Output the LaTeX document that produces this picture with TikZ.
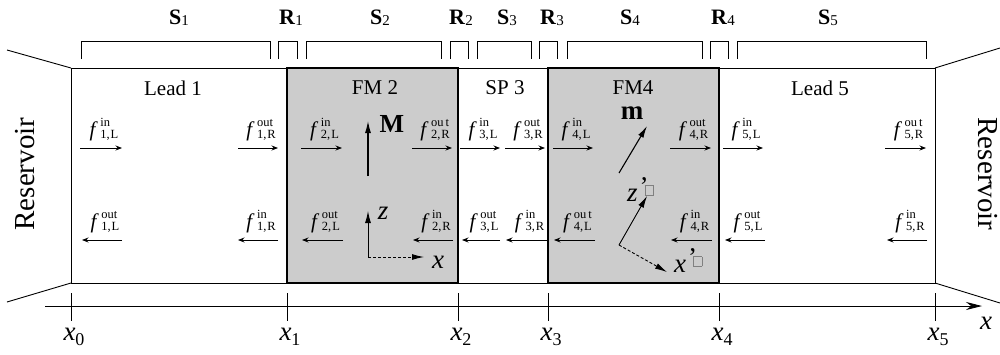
\documentclass[tikz,border=0pt]{standalone}
\usepackage{fontspec}
\setmainfont{Liberation Serif}
\usetikzlibrary{arrows.meta}
\newcommand{\scr}{\fontsize{12.5}{11.5}\selectfont}
\newcommand{\flab}[3]{\textit{f}\hspace{2.5pt}\raisebox{-2pt}{\scr\begin{tabular}[b]{@{}l@{}}#1\\#2,\kern1pt#3\end{tabular}}}
\newcommand{\missbox}{{\color{gray}\setlength{\fboxsep}{0pt}\setlength{\fboxrule}{0.6pt}\fbox{\rule{0pt}{9pt}\hspace{8pt}}}}
\newcommand{\seg}[2]{\textbf{#1}\raisebox{-1pt}{\fontsize{15}{15}\selectfont #2}}
\newcommand{\xsub}[1]{\textit{x}\raisebox{-5pt}{\fontsize{18}{18}\selectfont #1}}
\tikzset{
  thinline/.style={line width=0.9pt},
  fmline/.style={line width=1.6pt},
  flux/.style={line width=0.8pt,-{Stealth[length=6.5pt,width=5pt]}},
  flabel/.style={font=\fontsize{21}{23}\selectfont, inner sep=0pt, anchor=base},
  region/.style={font=\fontsize{21}{23}\selectfont},
  bigarrow/.style={line width=1.1pt,-{Latex[length=12pt,width=6pt]}},
  dasharrow/.style={line width=0.9pt,dash pattern=on 3pt off 2pt,-{Latex[length=12pt,width=6pt]}},
  seglabel/.style={font=\fontsize{22}{24}\selectfont},
  ticklabel/.style={font=\fontsize{27}{29}\selectfont},
  bracket/.style={line width=0.8pt},
  primelab/.style={font=\fontsize{27}{29}\selectfont, inner sep=0pt, anchor=base west},
}
\begin{document}
\begin{tikzpicture}[x=1pt,y=-1pt]
\useasboundingbox (0,0) rectangle (1000,354);
% gray regions
\fill[gray!40] (287,68) rectangle (458,283);
\fill[gray!40] (548,68) rectangle (719,283);
% main box
\draw[thinline] (71,68) rectangle (935,283);
\draw[fmline] (287,68) rectangle (458,283);
\draw[fmline] (548,68) rectangle (719,283);
% reservoir lines
\draw[thinline] (7,50) -- (71,68);
\draw[thinline] (7,302) -- (71,283);
\draw[thinline] (935,68) -- (1000,48);
\draw[thinline] (935,283) -- (1000,303);
\node[rotate=90,font=\fontsize{29}{31}\selectfont] (resL) at (25,174) {Reservoir};
\node[rotate=-90,font=\fontsize{29}{31}\selectfont] (resR) at (988,174) {Reservoir};
% brackets
\foreach \a/\b in {81/270,278/297,306/441,450/468,477/531,539/557,567/702,710/728,737/926}{
  \draw[bracket] (\a,59) -- (\a,41) -- (\b,41) -- (\b,59);
}
\node[seglabel] (s1) at (179,18) {\seg{S}{1}};
\node[seglabel] (r1) at (291,18) {\seg{R}{1}};
\node[seglabel] (s2) at (380,18) {\seg{S}{2}};
\node[seglabel] (r2) at (461,18) {\seg{R}{2}};
\node[seglabel] (s3) at (507,18) {\seg{S}{3}};
\node[seglabel] (r3) at (552,18) {\seg{R}{3}};
\node[seglabel] (s4) at (630,18) {\seg{S}{4}};
\node[seglabel] (r4) at (723,18) {\seg{R}{4}};
\node[seglabel] (s5) at (828,18) {\seg{S}{5}};
% region names
\node[region] (lead1) at (173,88) {Lead 1};
\node[region] (fm2) at (375,88) {FM 2};
\node[region] (sp3) at (505,88) {SP 3};
\node[region] (fm4) at (633,88) {FM4};
\node[region] (lead5) at (820,88) {Lead 5};
% flux arrows: top row
\foreach \a/\b/\s/\t/\u/\n in {80/122/in/1/L/a1,238/278/out/1/R/a2,301/342/in/2/L/a3,412/452/ou\,t/2/R/a4,460/500/in/3/L/a5,505/545/out/3/R/a6,553/593/in/4/L/a7,670/711/out/4/R/a8,723/763/in/5/L/a9,885/926/ou\,t/5/R/a10}{
  \coordinate (\n s) at (\a,148);
  \coordinate (\n e) at (\b,148);
  \draw[flux] (\n s) -- (\n e);
  \node[flabel] (\n l) at ({(\a+\b)/2+3},136) {\flab{\s}{\t}{\u}};
}
% flux arrows: bottom row
\foreach \a/\b/\s/\t/\u/\n in {122/82/out/1/L/b1,278/238/in/1/R/b2,343/302/out/2/L/b3,453/413/in/2/R/b4,500/462/out/3/L/b5,547/506/in/3/R/b6,595/554/ou\,t/4/L/b7,712/671/in/4/R/b8,765/725/out/5/L/b9,927/887/in/5/R/b10}{
  \coordinate (\n s) at (\a,240);
  \coordinate (\n e) at (\b,240);
  \draw[flux] (\n s) -- (\n e);
  \node[flabel] (\n l) at ({(\a+\b)/2+3},228) {\flab{\s}{\t}{\u}};
}
% FM2 magnetisation and axes
\coordinate (Mb) at (368,176);
\coordinate (Mt) at (368,121);
\draw[bigarrow] (Mb) -- (Mt);
\node[font=\fontsize{26}{28}\selectfont\bfseries] (Mlab) at (392,124) {M};
\coordinate (o2) at (368,257);
\coordinate (z2) at (368,211);
\coordinate (x2) at (424,257);
\draw[line width=0.9pt,-{Latex[length=12pt,width=6pt]}] (o2) -- (z2);
\draw[dasharrow] (o2) -- (x2);
\node[font=\fontsize{27}{29}\selectfont\itshape] (z2l) at (383,213) {z};
\node[font=\fontsize{27}{29}\selectfont\itshape] (x2l) at (438,262) {x};
% FM4 magnetisation and axes
\coordinate (mb) at (619,173);
\coordinate (mt) at (647,126);
\draw[bigarrow] (mb) -- (mt);
\node[font=\fontsize{27}{29}\selectfont\bfseries] (mlab) at (632,113) {m};
\coordinate (o4) at (619,245);
\coordinate (z4) at (647,196);
\coordinate (x4) at (667,272);
\draw[line width=0.9pt,-{Latex[length=12pt,width=6pt]}] (o4) -- (z4);
\draw[dasharrow] (o4) -- (x4);
\node[primelab] (z4l) at (627,201) {\textit{z}\hspace{2pt}\raisebox{6pt}{’\kern-4pt\missbox}};
\node[primelab] (x4l) at (674,272) {\textit{x}\hspace{2pt}\raisebox{6pt}{’\kern-4pt\missbox}};
% axis
\coordinate (axs) at (45,306);
\coordinate (axe) at (982,306);
\draw[thinline,-{Stealth[length=16pt,width=8pt]}] (axs) -- (axe);
\node[font=\fontsize{27}{29}\selectfont\itshape] (xax) at (986,323) {x};
\foreach \p/\i in {71/0,287/1,458/2,548/3,719/4,935/5}{
  \draw[thinline] (\p,293) -- (\p,321);
  \node[ticklabel] (t\i) at (\p+3,337) {\xsub{\i}};
}
\end{tikzpicture}
\end{document}
